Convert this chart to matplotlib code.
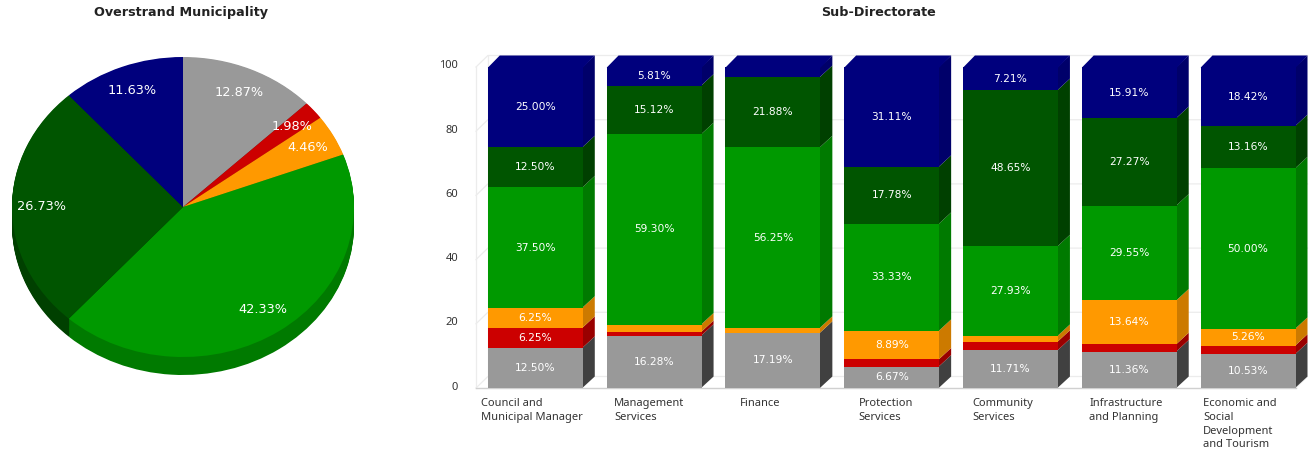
import numpy as np
import matplotlib
matplotlib.use("Agg")
import matplotlib.pyplot as plt
from matplotlib.patches import Polygon
from matplotlib.transforms import ScaledTranslation

# ---- data ----
pie_values = [12.87, 1.98, 4.46, 42.33, 26.73, 11.63]
categories = ["Council and\nMunicipal Manager", "Management\nServices", "Finance",
              "Protection\nServices", "Community\nServices", "Infrastructure\nand Planning",
              "Economic and\nSocial\nDevelopment\nand Tourism"]
grey = [12.50, 16.28, 17.19, 6.67, 11.71, 11.36, 10.53]
red = [6.25, 1.16, 0.0, 2.22, 2.70, 2.27, 2.63]
orange = [6.25, 2.33, 1.56, 8.89, 1.80, 13.64, 5.26]
green = [37.50, 59.30, 56.25, 33.33, 27.93, 29.55, 50.00]
dark_green = [12.50, 15.12, 21.88, 17.78, 48.65, 27.27, 13.16]
navy = [25.00, 5.81, 3.12, 31.11, 7.21, 15.91, 18.42]
series = [grey, red, orange, green, dark_green, navy]
yticks = [0, 20, 40, 60, 80, 100]

# ---- styles ----
W, H = 1314, 457
face = ["#999999", "#cc0000", "#ff9900", "#009900", "#005500", "#00007d"]
side = ["#404040", "#990000", "#cc7a00", "#007a00", "#004000", "#00006a"]
label_shift_px = [-54.5, -40, -33, -33, -38, -40, -45]
BODY = "Noto Sans"

fig = plt.figure(figsize=(W / 100, H / 100), dpi=100, facecolor="white")


def axes_px(left, top, right, bottom):
    return fig.add_axes([left / W, 1 - bottom / H, (right - left) / W, (bottom - top) / H])


# ---- pie ----
ax_p = axes_px(12, 57, 354, 357)
depth = 18 / 150
for d in np.linspace(depth, 0.005, 20):
    ax_p.pie(pie_values, colors=side, startangle=90, counterclock=False, radius=1,
             center=(0, -d), wedgeprops=dict(linewidth=0, clip_on=False))
wedges, texts = ax_p.pie(pie_values, colors=face, startangle=90, counterclock=False, radius=1,
                         labels=[f"{v:.2f}%" for v in pie_values], labeldistance=0.83,
                         wedgeprops=dict(linewidth=0, clip_on=False),
                         textprops=dict(color="white", fontsize=9.3, family="DejaVu Sans"))
for t in texts:
    t.set_ha("center")
    t.set_va("center")
    t.set_zorder(10)
ax_p.set_aspect("auto")
ax_p.set_xlim(-1, 1)
ax_p.set_ylim(-1, 1)
ax_p.axis("off")
fig.text(181.5 / W, 1 - 12.5 / H, "Overstrand Municipality", ha="center", va="center",
         fontsize=9.2, fontweight="bold", color="#222222", family="DejaVu Sans")

# ---- stacked bars ----
ax = axes_px(476, 67, 1307.5, 388)
ax.set_xlim(-0.5, 6.5)
ax.set_ylim(0, 100)
x = np.arange(len(categories))
bw, dx, dy = 0.8, 0.1, 11.5 / 3.21

# wall and floor
wall = "#ececec"
for tick in yticks[1:]:
    ax.plot([-0.5, -0.4, 6.5], [tick, tick + dy, tick + dy], color=wall, lw=0.9,
            clip_on=False, zorder=1)
ax.plot([-0.5, -0.4, 6.5, 6.4], [0, dy, dy, 0], color=wall, lw=0.9, clip_on=False, zorder=1)
ax.plot([-0.5, -0.5], [0, 100], color=wall, lw=0.9, clip_on=False, zorder=1)
ax.plot([-0.4, -0.4], [dy, 100 + dy], color=wall, lw=0.9, clip_on=False, zorder=1)
ax.plot([-0.5, 6.4], [0, 0], color="#d0d0d0", lw=1.0, clip_on=False, zorder=1.5)

bottom = np.zeros(len(categories))
for s, vals in enumerate(series):
    vals = np.array(vals)
    ax.bar(x, vals, bw, bottom=bottom, color=face[s], linewidth=0, zorder=3, clip_on=False)
    for i, v in enumerate(vals):
        if v <= 0:
            continue
        r = x[i] + bw / 2
        b, t = bottom[i], bottom[i] + v
        ax.add_patch(Polygon([(r - 0.005, b), (r + dx, b + dy), (r + dx, t + dy), (r - 0.005, t)],
                             closed=True, fc=side[s], ec="none", zorder=2.5, clip_on=False))
        if v >= 5:
            ax.text(x[i], (b + t) / 2, f"{v:.2f}%", ha="center", va="center", color="white",
                    fontsize=7.7, family="DejaVu Sans", zorder=5)
    bottom = bottom + vals

for xi, t in zip(x, bottom):
    l, r = xi - bw / 2, xi + bw / 2
    ax.add_patch(Polygon([(l, t - 0.2), (r, t - 0.2), (r + dx, t + dy), (l + dx, t + dy)],
                         closed=True, fc=face[-1], ec="none", zorder=2.6, clip_on=False))

for sp in ax.spines.values():
    sp.set_visible(False)
ax.set_yticks(yticks)
ax.set_xticks(x, categories)
ax.tick_params(axis="y", length=0, pad=13, labelsize=8, labelcolor="#333333")
ax.tick_params(axis="x", length=0, pad=7.5, labelsize=8, labelcolor="#333333")
for lab in ax.get_yticklabels():
    lab.set_family(BODY)
    lab.set_transform(lab.get_transform() + ScaledTranslation(0, 2.5 / 100, fig.dpi_scale_trans))
for lab, shift in zip(ax.get_xticklabels(), label_shift_px):
    lab.set_family(BODY)
    lab.set_ha("left")
    lab.set_va("top")
    lab.set_linespacing(1.32)
    lab.set_transform(lab.get_transform() + ScaledTranslation(shift / 100, 0, fig.dpi_scale_trans))
fig.text(878 / W, 1 - 12.5 / H, "Sub-Directorate", ha="center", va="center",
         fontsize=9.2, fontweight="bold", color="#222222", family="DejaVu Sans")

fig.savefig("out.png", dpi=100, facecolor="white")
